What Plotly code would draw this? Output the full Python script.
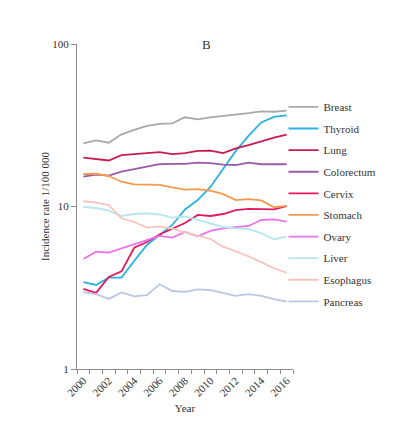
import plotly.graph_objects as go

years = list(range(2000, 2017))

# incidence per 100 000
breast = [24.5, 25.5, 24.7, 27.8, 29.6, 31.3, 32.2, 32.5, 35.4, 34.4, 35.4, 36.0, 36.7, 37.5, 38.5, 38.3, 38.9]
thyroid = [3.43, 3.29, 3.65, 3.65, 4.62, 5.80, 6.68, 7.70, 9.59, 10.96, 13.2, 17.2, 22.0, 27.2, 32.9, 35.6, 36.4]
lung = [19.96, 19.6, 19.2, 20.7, 21.0, 21.4, 21.6, 21.0, 21.3, 22.0, 22.1, 21.3, 22.8, 23.9, 25.3, 26.5, 27.7]
colorectum = [15.25, 15.7, 15.5, 16.4, 17.0, 17.6, 18.2, 18.3, 18.3, 18.6, 18.5, 18.1, 18.0, 18.6, 18.2, 18.2, 18.2]
cervix = [3.11, 2.94, 3.68, 3.99, 5.57, 6.05, 6.72, 7.29, 7.91, 8.87, 8.74, 8.99, 9.51, 9.66, 9.66, 9.6, 10.05]
stomach = [15.85, 15.9, 15.4, 14.2, 13.7, 13.6, 13.6, 13.1, 12.7, 12.8, 12.5, 11.9, 10.96, 11.1, 10.9, 9.9, 10.1]
ovary = [4.75, 5.27, 5.20, 5.53, 5.88, 6.22, 6.60, 6.43, 6.97, 6.55, 7.07, 7.34, 7.45, 7.59, 8.26, 8.34, 8.06]
liver = [9.93, 9.79, 9.42, 8.74, 8.99, 9.08, 8.93, 8.55, 8.68, 8.26, 7.86, 7.48, 7.34, 7.27, 6.84, 6.29, 6.52]
esophagus = [10.77, 10.58, 10.21, 8.46, 8.03, 7.41, 7.55, 7.30, 6.92, 6.60, 6.31, 5.66, 5.31, 4.94, 4.55, 4.17, 3.91]
pancreas = [2.97, 2.89, 2.70, 2.96, 2.80, 2.85, 3.32, 3.02, 2.98, 3.09, 3.06, 2.94, 2.82, 2.89, 2.82, 2.69, 2.60]

series = [
    ("Breast", breast, "#a8a8a8"),
    ("Thyroid", thyroid, "#2ab3e2"),
    ("Lung", lung, "#c81c4e"),
    ("Colorectum", colorectum, "#9b5ba8"),
    ("Cervix", cervix, "#e3195c"),
    ("Stomach", stomach, "#f59a4c"),
    ("Ovary", ovary, "#ee72ec"),
    ("Liver", liver, "#b6e7ee"),
    ("Esophagus", esophagus, "#f8c3bc"),
    ("Pancreas", pancreas, "#bcc6e2"),
]

font = "Liberation Serif, Times New Roman, serif"

fig = go.Figure()
for name, vals, col in series:
    fig.add_trace(go.Scatter(x=years, y=vals, name=name, mode="lines",
                             line=dict(color=col, width=1.8), legendgroup=name))

# page body keeps its default 8px margin, so the figure is a bit smaller than the window
fig.update_layout(
    width=404, height=419,
    margin=dict(l=69, r=119, t=36, b=58),
    paper_bgcolor="white", plot_bgcolor="white",
    font=dict(family=font, size=11, color="#333333"),
    showlegend=True,
    legend=dict(x=0.956, xanchor="left", y=0.851, yanchor="top",
                tracegroupgap=2.6, itemwidth=30,
                font=dict(family=font, size=11, color="#333333"),
                bgcolor="rgba(0,0,0,0)"),
    annotations=[dict(text="B", x=0.6, y=1.0, xref="paper", yref="paper",
                      xanchor="center", yanchor="middle", showarrow=False,
                      font=dict(family=font, size=13, color="#333333"))],
)

fig.update_xaxes(
    range=[1999.5, 2016.5], tickvals=years[::2], ticktext=[str(y) for y in years[::2]],
    tickangle=-45, ticks="", showgrid=False, zeroline=False,
    showline=True, linecolor="#8c8c8c", linewidth=1,
    minor=dict(tick0=1999.5, dtick=1, ticks="outside", ticklen=4, tickcolor="#8c8c8c", showgrid=False),
    title=dict(text="Year", font=dict(family=font, size=11), standoff=6),
    tickfont=dict(family=font, size=11),
)
fig.update_yaxes(
    type="log", range=[0, 2], tickvals=[1, 10, 100], ticktext=["1", "10", "100"],
    ticks="outside", ticklen=5, tickcolor="#8c8c8c", showgrid=False, zeroline=False,
    showline=True, linecolor="#8c8c8c", linewidth=1,
    title=dict(text="Incidence rate 1/100 000", font=dict(family=font, size=11), standoff=0),
    tickfont=dict(family=font, size=11),
)

fig.write_html("out.html")
